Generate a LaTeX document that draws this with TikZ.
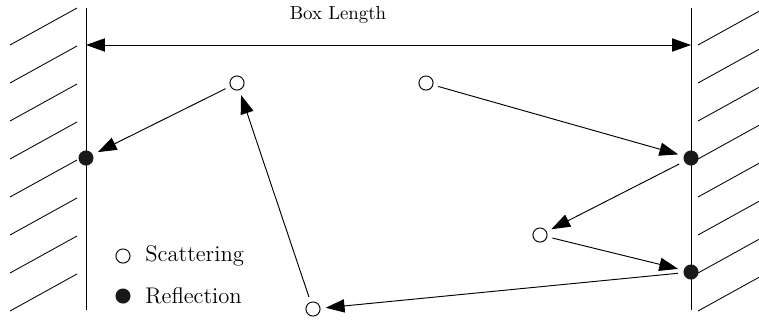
\documentclass[tikz,border=0pt]{standalone}
\usetikzlibrary{arrows.meta}
\begin{document}
\begin{tikzpicture}[x=0.53pt,y=-0.53pt,
  wall/.style={line width=0.5pt},
  hatch/.style={line width=0.45pt},
  conn/.style={line width=0.5pt,-{Triangle[length=10pt,width=7pt]}},
  scat/.style={circle,draw,line width=0.5pt,fill=white,minimum size=7.5pt,inner sep=0pt,outer sep=3pt},
  refl/.style={circle,fill=black!90,minimum size=8pt,inner sep=0pt,outer sep=3pt},
  lbl/.style={font=\fontsize{12}{14}\selectfont,anchor=west,inner sep=0pt}]
\useasboundingbox (0,0) rectangle (759,325);
% walls
\coordinate (lwt) at (86,8); \coordinate (lwb) at (86,310);
\coordinate (rwt) at (691,8); \coordinate (rwb) at (691,310);
\draw[wall] (lwt) -- (lwb);
\draw[wall] (rwt) -- (rwb);
\foreach \k in {0,...,7}{
  \draw[hatch] (10,45+38*\k) -- (77,8+38*\k);
  \draw[hatch] (698,45+38*\k) -- (759,11.3+38*\k);
}
% box length
\coordinate (bl) at (86,45); \coordinate (br) at (691,45);
\draw[line width=0.5pt,{Triangle[length=10pt,width=7pt]}-{Triangle[length=10pt,width=7pt]}] (bl) -- (br);
\node[font=\fontsize{10}{12}\selectfont] (blt) at (338,15) {Box Length};
% particles
\node[refl] (r0) at (86,158) {};
\node[scat] (s1) at (237,83) {};
\node[scat] (s2) at (426,83) {};
\node[refl] (r1) at (691,158) {};
\node[scat] (s3) at (540,235) {};
\node[refl] (r2) at (691,272) {};
\node[scat] (s4) at (313,309) {};
\draw[conn] (s1) -- (r0);
\draw[conn] (s2) -- (r1);
\draw[conn] (r1) -- (s3);
\draw[conn] (s3) -- (r2);
\draw[conn] (r2) -- (s4);
\draw[conn] (s4) -- (s1);
% legend
\node[scat,outer sep=0pt] (ls) at (123,256) {};
\node[refl,outer sep=0pt] (lr) at (123,296) {};
\node[lbl] (lst) at (145,256) {Scattering};
\node[lbl] (lrt) at (145,296) {Reflection};
\end{tikzpicture}
\end{document}
